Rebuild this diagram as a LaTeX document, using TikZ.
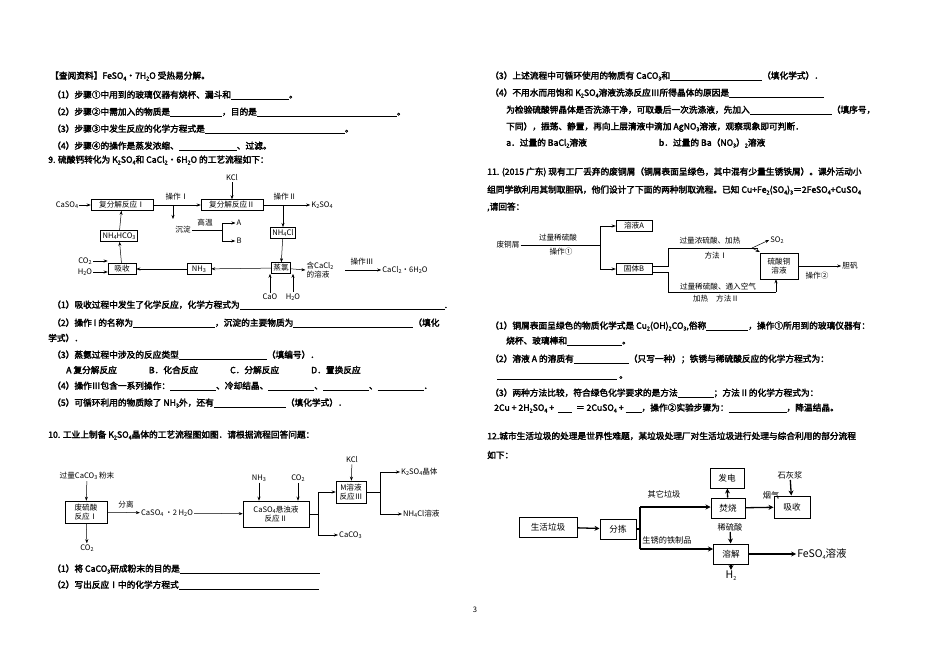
\documentclass[tikz,border=0pt]{standalone}
\usepackage{fontspec}
\setmainfont{Noto Sans CJK SC}[AutoFakeBold=2.5]
\usetikzlibrary{arrows.meta}
\newcommand{\bl}[1]{\rule[-1.5pt]{#1pt}{0.4pt}}
\newcommand{\ssb}[1]{\raisebox{-0.35ex}{\fontsize{5.5}{6}\selectfont #1}}
\begin{document}
\begin{tikzpicture}[x=1pt,y=-1pt,
 q/.style={anchor=west,inner sep=0,font=\fontsize{8.7}{10}\selectfont\bfseries},
 t/.style={inner sep=1pt,font=\fontsize{7.6}{9}\selectfont},
 bx/.style={draw,line width=0.5pt,inner sep=2pt,align=center,font=\fontsize{7.6}{9}\selectfont},
 ar/.style={-{Stealth[length=4pt,width=3pt]},line width=0.5pt},
 ln/.style={line width=0.5pt},
 tb/.style={line width=1.3pt,-{Stealth[length=5pt,width=5pt]}},
 bz/.style={bx,line width=1pt,font=\fontsize{8.6}{10}\selectfont},
 tz/.style={t,font=\fontsize{8.2}{10}\selectfont}]
\useasboundingbox (0,0) rectangle (950,671);
\fill[white] (0,0) rectangle (950,671);
% ---------- left column
\node[q] (l1) at (50,76) {【查阅资料】FeSO\ssb{4}·7H\ssb{2}O 受热易分解。};
\node[q] (l2) at (52,95) {（1）步骤①中用到的玻璃仪器有烧杯、漏斗和\bl{58}。};
\node[q] (l3) at (52,112) {（2）步骤②中需加入的物质是\bl{52}，目的是\bl{140}。};
\node[q] (l4) at (52,129) {（3）步骤③中发生反应的化学方程式是\bl{140}。};
\node[q] (l5) at (52,146) {（4）步骤④的操作是蒸发浓缩、\bl{58}、过滤。};
\node[q] (l6) at (48,160) {9. 硫酸钙转化为 K\ssb{2}SO\ssb{4}和 CaCl\ssb{2}•6H\ssb{2}O 的工艺流程如下：};
% diagram 9
\node[t] (kcl) at (232,178) {KCl};
\node[t] (caso4) at (67,205) {CaSO\ssb{4}};
\node[bx,minimum width=62pt] (r1) at (122,205) {复分解反应Ⅰ};
\node[bx,minimum width=62pt] (r2) at (232,205) {复分解反应Ⅱ};
\node[t] (op1) at (177,197) {操作Ⅰ};
\node[t] (op2) at (285,197) {操作Ⅱ};
\node[t] (k2so4) at (322,205) {K\ssb{2}SO\ssb{4}};
\node[t] (cd) at (183,230) {沉淀};
\node[t] (gw) at (205,223) {高温};
\node[t] (A) at (239,223) {A};
\node[t] (B) at (239,241) {B};
\node[bx] (nh4cl) at (283,233) {NH\ssb{4}Cl};
\node[bx] (nh4hco3) at (119,236) {NH\ssb{4}HCO\ssb{3}};
\node[bx,minimum width=28pt] (xs) at (122,269) {吸收};
\node[t] (co2) at (85,261) {CO\ssb{2}};
\node[t] (h2o) at (85,272) {H\ssb{2}O};
\node[bx,minimum width=24pt] (nh3) at (199,269) {NH\ssb{3}};
\node[bx] (zl) at (281,268) {蒸氯};
\node[t,align=left] (cacl) at (320,270) {含CaCl\ssb{2}\\的溶液};
\node[t] (op3) at (362,262) {操作Ⅲ};
\node[t] (cacl6) at (405,270) {CaCl\ssb{2}·6H\ssb{2}O};
\node[t] (cao) at (270,297) {CaO};
\node[t] (h2o2) at (293,297) {H\ssb{2}O};
\draw[ar] (caso4) -- (r1);
\draw[ar] (r1) -- (r2);
\draw[ar] (kcl) -- (r2);
\draw[ar] (r2) -- (k2so4);
\draw[ar] (173,205) -- (173,219);
\draw[ln] (cd.east) -- (222,230) (222,223) -- (222,241);
\draw[ar] (222,223) -- (A); \draw[ar] (222,241) -- (B);
\draw[ar] (283,205) -- (nh4cl);
\draw[ar] (nh4cl) -- (zl);
\draw[ar] (nh4hco3) -- (r1);
\draw[ar] (xs) -- (nh4hco3);
\draw[ar] (co2) -- (xs.west|-co2);
\draw[ar] (h2o) -- (xs.west|-h2o);
\draw[ar] (zl) -- (nh3);
\draw[ar] (nh3) -- (xs);
\draw[ar] (zl) -- (cacl.west);
\draw[ar] (345,270) -- (cacl6);
\draw[ar] (cao) -- (cao|-zl.south);
\draw[ar] (h2o2) -- (h2o2|-zl.south);
% questions 9
\node[q] at (52,305) {（1）吸收过程中发生了化学反应，化学方程式为\bl{205}.};
\node[q] at (52,323) {（2）操作 I 的名称为\bl{82}，沉淀的主要物质为\bl{120}（填化};
\node[q] at (48,338) {学式）．};
\node[q] at (52,355) {（3）蒸氨过程中涉及的反应类型\bl{88}（填编号）．};
\node[q] at (66,370) {A 复分解反应\hspace{32pt}B．化合反应\hspace{32pt}C．分解反应\hspace{32pt}D．置换反应};
\node[q] at (52,386) {（4）操作Ⅲ包含一系列操作：\bl{46}、冷却结晶、\bl{46}、\bl{46}、\bl{46}．};
\node[q] at (52,403) {（5）可循环利用的物质除了 NH\ssb{3}外，还有\bl{72}（填化学式）．};
\node[q] at (48,435) {10. 工业上制备 K\ssb{2}SO\ssb{4}晶体的工艺流程图如图．请根据流程回答问题：};
% diagram 10
\node[t] (caco3p) at (87,476) {过量CaCO\ssb{3} 粉末};
\node[bx,minimum width=42pt,minimum height=22pt,inner sep=1pt] (f1) at (86,512) {废硫酸\\反应Ⅰ};
\node[t] (co2b) at (87,548) {CO\ssb{2}};
\node[t] (fl) at (126,505) {分离};
\node[t] (cs) at (167,513) {CaSO\ssb{4} ·2 H\ssb{2}O};
\node[bx,minimum width=66pt,minimum height=26pt,inner sep=1pt] (f2) at (276,514) {CaSO\ssb{4}悬浊液\\反应Ⅱ};
\node[t] (nh3b) at (259,478) {NH\ssb{3}};
\node[t] (co2c) at (298,478) {CO\ssb{2}};
\node[bx,minimum width=30pt,minimum height=22pt,inner sep=1pt] (f3) at (351,492) {M溶液\\反应Ⅲ};
\node[t] (kclb) at (352,460) {KCl};
\node[t,anchor=west] (k2b) at (400,472) {K\ssb{2}SO\ssb{4}晶体};
\node[t,anchor=west] (nhb) at (402,514) {NH\ssb{4}Cl溶液};
\node[t,anchor=west] (cc) at (338,535) {CaCO\ssb{3}};
\draw[ar] (caco3p) -- (f1);
\draw[ar] (f1) -- (co2b);
\draw[ar] (f1) -- (cs);
\draw[ar] (cs) -- (f2);
\draw[ar] (nh3b) -- (nh3b|-f2.north);
\draw[ar] (co2c) -- (co2c|-f2.north);
\draw[ln] (f2.east) -- (318,514) (318,492) -- (318,535);
\draw[ar] (318,492) -- (f3); \draw[ar] (318,535) -- (cc);
\draw[ar] (kclb) -- (f3);
\draw[ln] (f3.east) -- (380,492) (380,472) -- (380,514);
\draw[ar] (380,472) -- (k2b); \draw[ar] (380,514) -- (nhb);
\node[q] at (52,569) {（1）将 CaCO\ssb{3}研成粉末的目的是\bl{140}};
\node[q] at (52,585) {（2）写出反应Ⅰ中的化学方程式\bl{140}};
\node[t] (pg) at (475,610) {3};
% ---------- right column
\node[q] at (490,76) {（3）上述流程中可循环使用的物质有 CaCO\ssb{3}和\bl{92}（填化学式）．};
\node[q] at (490,93) {（4）不用水而用饱和 K\ssb{2}SO\ssb{4}溶液洗涤反应Ⅲ所得晶体的原因是\bl{95}};
\node[q] at (506,110) {为检验硫酸钾晶体是否洗涤干净，可取最后一次洗涤液，先加入\bl{82}（填序号，};
\node[q] at (506,127) {下同），振荡、静置，再向上层清液中滴加 AgNO\ssb{3}溶液，观察现象即可判断．};
\node[q] at (506,143) {a．过量的 BaCl\ssb{2}溶液\hspace{72pt}b．过量的 Ba（NO\ssb{3}）\ssb{2}溶液};
\node[q] at (487,172) {11. (2015 广东) 现有工厂丢弃的废铜屑（铜屑表面呈绿色，其中混有少量生锈铁屑）。课外活动小};
\node[q] at (487,190) {组同学欲利用其制取胆矾，他们设计了下面的两种制取流程。已知 Cu+Fe\ssb{2}(SO\ssb{4})\ssb{3}＝2FeSO\ssb{4}+CuSO\ssb{4}};
\node[q] at (487,207) {,请回答：};
% diagram 11
\node[t] (fts) at (508,245) {废铜屑};
\node[t] (g1) at (558,238) {过量稀硫酸};
\node[t] (g2) at (561,252) {操作①};
\node[bx,minimum width=36pt] (ya) at (634,226) {溶液A};
\node[bx,minimum width=36pt] (gb) at (634,269) {固体B};
\node[bx,minimum width=38pt,minimum height=26pt,inner sep=1pt] (cu) at (779,266) {硫酸铜\\溶液};
\node[t] (so2) at (777,240) {SO\ssb{2}};
\node[t] (m1) at (710,241) {过量浓硫酸、加热};
\node[t] (m2) at (716,256) {方法Ⅰ};
\node[t] (m3) at (718,287) {过量稀硫酸、通入空气};
\node[t] (m4) at (716,299) {加热\hspace{8pt}方法Ⅱ};
\node[t] (dan) at (850,266) {胆矾};
\node[t] (op22) at (817,276) {操作②};
\draw[ln] (fts.east) -- (600,245);
\draw[ln] (600,226) -- (600,269);
\draw[ar] (600,226) -- (ya); \draw[ar] (600,269) -- (gb);
\draw[ln] (gb.east|-0,266) -- (668,266) -- (668,248) -- (758,248);
\draw[ar] (752,248) -- (so2.west);
\draw[ar] (752,248) -- (cu.west|-0,252);
\draw[ln] (gb.east|-0,272) -- (668,272) -- (668,292) -- (776,292);
\draw[ar] (776,292) -- (cu.south-|776,0);
\draw[ar] (cu) -- (dan);
% questions 11
\node[q] at (490,326) {（1）铜屑表面呈绿色的物质化学式是 Cu\ssb{2}(OH)\ssb{2}CO\ssb{3},俗称\bl{42}，操作①所用到的玻璃仪器有：};
\node[q] at (506,341) {烧杯、玻璃棒和\bl{55}。};
\node[q] at (490,359) {（2）溶液 A 的溶质有\bl{55}（只写一种）；铁锈与稀硫酸反应的化学方程式为：};
\node[q] at (497,378) {\bl{120} 。};
\node[q] at (490,393) {（3）两种方法比较，符合绿色化学要求的是方法\bl{36}；方法 II 的化学方程式为：};
\node[q] at (494,408) {2Cu + 2H\ssb{2}SO\ssb{4} + \ \bl{14} \ ＝ 2CuSO\ssb{4} + \bl{16}，操作②实验步骤为：\bl{58}，降温结晶。};
\node[q] at (487,436) {12.城市生活垃圾的处理是世界性难题，某垃圾处理厂对生活垃圾进行处理与综合利用的部分流程};
\node[q] at (487,455) {如下：};
% diagram 12
\node[bz,minimum width=58pt,minimum height=20pt] (sh) at (548,527) {生活垃圾};
\node[bz,minimum width=36pt,minimum height=20pt] (fj) at (618,529) {分拣};
\node[bz,minimum width=34pt,minimum height=20pt] (fs) at (728,508) {焚烧};
\node[bz,minimum width=34pt,minimum height=20pt] (fd) at (727,478) {发电};
\node[bz,minimum width=36pt,minimum height=22pt] (xs2) at (792,507) {吸收};
\node[bz,minimum width=35pt,minimum height=20pt] (rj) at (731,554) {溶解};
\node[tz] (qt) at (664,494) {其它垃圾};
\node[tz] (yq) at (771,495) {烟气};
\node[tz] (shj) at (790,475) {石灰浆};
\node[tz] (sx) at (667,540) {生锈的铁制品};
\node[tz] (xl) at (730,527) {稀硫酸};
\node[t,font=\fontsize{10.5}{12}\selectfont] (feso) at (822,554) {FeSO\ssb{4}溶液};
\node[t,font=\fontsize{10.5}{12}\selectfont] (h2) at (731,576) {H\ssb{2}};
\draw[tb] (sh) -- (fj);
\draw[line width=1.3pt] (fj.east) -- (640,529) (640,507) -- (640,549);
\draw[tb] (640,507) -- (fs.west|-0,507);
\draw[tb] (640,549) -- (rj.west|-0,549);
\draw[tb] (fs) -- (fd);
\draw[tb] (fs) -- (xs2);
\draw[tb] (shj) -- (xs2);
\draw[tb] (xl) -- (rj);
\draw[tb] (rj) -- (h2);
\draw[tb] (rj) -- (feso);
\end{tikzpicture}
\end{document}
